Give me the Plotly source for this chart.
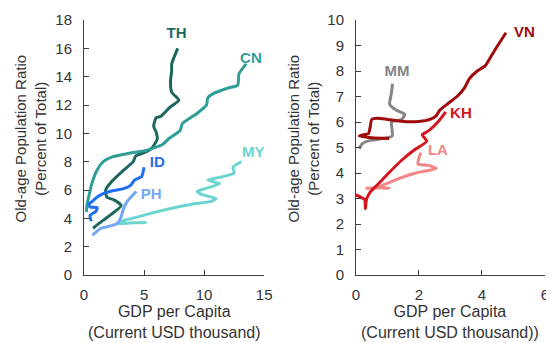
import plotly.graph_objects as go

# ---------------- data (GDP per capita, USD thousand ; old-age ratio, %) -------------
th_x = [0.75, 1.5, 2.3, 3.1, 2.5, 1.9, 1.8, 2.2, 3.3, 4.1, 4.3, 5.2, 5.7, 6.1, 6.0, 5.8, 6.0, 6.4, 7.1, 7.9, 7.3, 7.2, 7.3, 7.3, 7.8]
th_y = [3.3, 3.8, 4.3, 4.9, 5.3, 5.5, 6.0, 6.5, 7.4, 8.0, 8.4, 8.7, 9.0, 9.6, 10.1, 10.5, 11.1, 11.2, 11.8, 12.35, 12.9, 13.7, 14.4, 14.9, 16.0]

cn_x = [0.2, 0.25, 0.4, 0.67, 1.08, 1.6, 2.4, 3.8, 5.2, 6.5, 7.1, 8.0, 8.2, 9.4, 10.2, 10.3, 10.75, 12.0, 12.8, 12.9, 13.5]
cn_y = [4.45, 4.95, 5.55, 6.5, 7.4, 8.0, 8.35, 8.6, 8.8, 9.2, 9.65, 10.2, 10.7, 11.4, 12.0, 12.5, 12.8, 13.2, 13.4, 14.2, 14.9]

my_x = [5.2, 4.0, 2.8, 3.5, 4.5, 6.0, 7.5, 9.0, 10.6, 11.0, 9.9, 9.4, 10.1, 11.3, 10.3, 11.6, 12.5, 12.4, 13.1]
my_y = [3.7, 3.68, 3.62, 3.9, 4.1, 4.45, 4.75, 5.0, 5.2, 5.4, 5.65, 5.9, 6.1, 6.45, 6.7, 6.95, 7.2, 7.6, 8.0]

id_x = [0.6, 0.5, 1.0, 1.1, 0.5, 0.4, 0.7, 1.1, 1.6, 2.4, 3.3, 3.9, 4.2, 4.8, 5.0]
id_y = [3.8, 4.2, 4.5, 4.75, 4.8, 5.0, 5.2, 5.5, 5.75, 5.95, 6.1, 6.35, 6.7, 6.95, 7.6]

ph_x = [0.7, 0.9, 1.1, 1.4, 1.9, 2.7, 3.0, 3.3, 3.6, 4.35]
ph_y = [2.8, 2.95, 3.1, 3.3, 3.4, 3.6, 3.9, 4.7, 5.2, 5.9]

vn_x = [1.05, 0.5, 0.1, 0.25, 0.4, 0.45, 0.5, 0.7, 1.0, 1.5, 2.0, 2.35, 2.55, 2.65, 2.95, 3.25, 3.45, 3.6, 3.85, 4.1, 4.3, 4.5, 4.76]
vn_y = [5.35, 5.38, 5.45, 5.5, 5.55, 5.8, 6.1, 6.15, 6.1, 6.02, 6.02, 6.1, 6.25, 6.45, 6.75, 7.05, 7.35, 7.7, 8.0, 8.2, 8.6, 9.0, 9.5]

kh_x = [0.0, 0.15, 0.28, 0.3, 0.33, 0.45, 0.65, 1.0, 1.45, 1.85, 2.25, 2.1, 2.3, 2.6, 2.85]
kh_y = [3.15, 3.05, 2.95, 2.6, 2.95, 3.25, 3.5, 3.95, 4.5, 4.9, 5.25, 5.5, 5.65, 6.0, 6.4]

la_x = [0.3, 0.7, 1.05, 0.7, 1.0, 1.4, 1.9, 2.3, 2.55, 2.3, 1.97, 2.0, 2.06]
la_y = [3.4, 3.42, 3.4, 3.45, 3.6, 3.8, 4.0, 4.1, 4.18, 4.3, 4.35, 4.6, 4.8]

mm_x = [0.1, 0.2, 0.45, 0.9, 1.15, 1.15, 1.13, 1.45, 1.55, 1.3, 1.07, 1.12, 1.16]
mm_y = [4.95, 5.15, 5.28, 5.36, 5.45, 5.65, 6.0, 6.1, 6.3, 6.45, 6.7, 7.1, 7.5]

left_labels = ["TH", "CN", "MY", "ID", "PH"]
left_label_x = [7.7, 13.9, 14.1, 6.1, 5.6]
left_label_y = [17.0, 15.2, 8.6, 7.9, 5.6]
right_labels = ["VN", "MM", "KH", "LA"]
right_label_x = [5.35, 1.3, 3.33, 2.6]
right_label_y = [9.5, 7.95, 6.3, 4.85]

x_title = "GDP per Capita<br>(Current USD thousand)"
x_title2 = "GDP per Capita<br>(Current USD thousand))"
y_title = "Old-age Population Ratio<br>(Percent of Total)"

# ---------------- styling ------------------------------------------------------------
colors = {
    "TH": "#1E675F", "CN": "#2E9E97", "MY": "#6DD5CF", "ID": "#1F6FF0", "PH": "#74A8F2",
    "VN": "#A00A0A", "KH": "#D4141E", "LA": "#F48585", "MM": "#858585",
}
FONT = "Liberation Sans, Arial, sans-serif"
OFF = 8  # page body margin offset
W, H = 554 - OFF, 343 - OFF
L, R, T, B = 83.5 - OFF, 1, 20 - OFF, 343 - 275
PW, PH_ = W - L - R, H - T - B


def px2paper_x(px):  # px given in screenshot coordinates
    return (px - OFF - L) / PW


def px2paper_y(py):
    return (H - B - (py - OFF)) / PH_


fig = go.Figure()

left_series = [("TH", th_x, th_y), ("CN", cn_x, cn_y), ("MY", my_x, my_y),
               ("ID", id_x, id_y), ("PH", ph_x, ph_y)]
right_series = [("MM", mm_x, mm_y), ("LA", la_x, la_y), ("KH", kh_x, kh_y),
                ("VN", vn_x, vn_y)]

for name, xs, ys in left_series:
    fig.add_trace(go.Scatter(x=xs, y=ys, mode="lines", name=name,
                             line=dict(color=colors[name], width=3, shape="spline", smoothing=0.5),
                             xaxis="x", yaxis="y", showlegend=False))
for name, xs, ys in right_series:
    fig.add_trace(go.Scatter(x=xs, y=ys, mode="lines", name=name,
                             line=dict(color=colors[name], width=3, shape="spline", smoothing=0.5),
                             xaxis="x2", yaxis="y2", showlegend=False))

# labels
fig.add_trace(go.Scatter(x=left_label_x, y=left_label_y, mode="text", text=left_labels,
                         textfont=dict(family=FONT, size=15, color=[colors[n] for n in left_labels],
                                       weight="bold"),
                         xaxis="x", yaxis="y", showlegend=False, hoverinfo="skip"))
fig.add_trace(go.Scatter(x=right_label_x, y=right_label_y, mode="text", text=right_labels,
                         textfont=dict(family=FONT, size=15, color=[colors[n] for n in right_labels],
                                       weight="bold"),
                         xaxis="x2", yaxis="y2", showlegend=False, hoverinfo="skip"))

axis_common = dict(showline=True, linecolor="#404040", linewidth=1, ticks="inside",
                   ticklen=5, tickcolor="#404040", showgrid=False, zeroline=False,
                   tickfont=dict(family=FONT, size=15, color="#333333"), fixedrange=True)

d1 = [0, px2paper_x(267)]
d2 = [px2paper_x(360.5), 1]

fig.update_layout(
    width=W, height=H,
    margin=dict(l=L, r=R, t=T, b=B),
    paper_bgcolor="white", plot_bgcolor="white",
    font=dict(family=FONT, color="#333333"),
    xaxis=dict(domain=d1, range=[0, 15], tickvals=[0, 5, 10, 15], anchor="y",
               ticklabelstandoff=6, **axis_common),
    yaxis=dict(domain=[0, 1], range=[0, 18], tickvals=list(range(0, 19, 2)), anchor="x",
               ticklabelstandoff=8, **axis_common),
    xaxis2=dict(domain=d2, range=[0, 6], tickvals=[0, 2, 4, 6], anchor="y2",
                ticklabelstandoff=6, **axis_common),
    yaxis2=dict(domain=[0, 1], range=[0, 10], tickvals=list(range(0, 11)), anchor="x2",
                ticklabelstandoff=8, **axis_common),
)

yt_font = dict(family=FONT, size=15, color="#333333")
xt_font = dict(family=FONT, size=16, color="#333333")
fig.add_annotation(text=y_title, textangle=-90, xref="paper", yref="paper",
                   x=px2paper_x(29), y=px2paper_y(138), xanchor="center", yanchor="middle",
                   showarrow=False, font=yt_font)
fig.add_annotation(text=y_title, textangle=-90, xref="paper", yref="paper",
                   x=px2paper_x(307), y=px2paper_y(138), xanchor="center", yanchor="middle",
                   showarrow=False, font=yt_font)
fig.add_annotation(text=x_title, xref="paper", yref="paper",
                   x=px2paper_x(176), y=px2paper_y(322), xanchor="center", yanchor="middle",
                   showarrow=False, font=xt_font)
fig.add_annotation(text=x_title2, xref="paper", yref="paper",
                   x=px2paper_x(456), y=px2paper_y(322), xanchor="center", yanchor="middle",
                   showarrow=False, font=xt_font)

fig.write_html("out.html")
